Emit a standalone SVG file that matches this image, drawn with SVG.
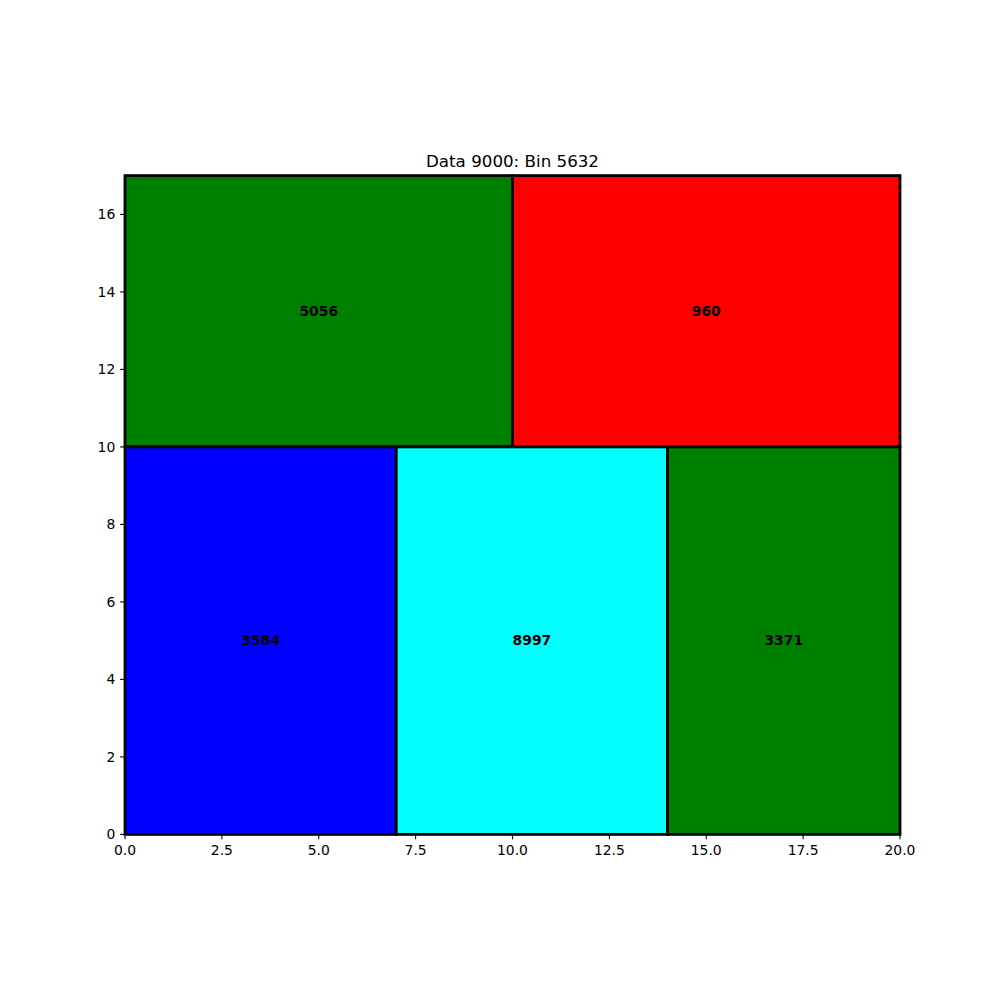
<svg xmlns="http://www.w3.org/2000/svg" width="1000" height="1000" viewBox="0 0 1000 1000">
<style>
text { font-family: "DejaVu Sans", sans-serif; fill: #000; }
.tick { stroke: #000; stroke-width: 1.1; }
.xl { font-size: 13.9px; text-anchor: middle; }
.yl { font-size: 13.9px; text-anchor: end; }
.lbl { font-size: 13.9px; font-weight: bold; text-anchor: middle; }
.box { stroke: #000; stroke-width: 2.8; }
</style>
<rect x="0" y="0" width="1000" height="1000" fill="#fff"/>
<text x="512.5" y="167" style="font-size:16.7px" text-anchor="middle">Data 9000: Bin 5632</text>
<g id="nodes">
<g id="n5056"><rect class="box" x="125" y="175.6" width="387.5" height="271.3" fill="#008000"/><text class="lbl" x="318.75" y="315.8">5056</text></g>
<g id="n960"><rect class="box" x="512.5" y="175.6" width="387.5" height="271.3" fill="#ff0000"/><text class="lbl" x="706.25" y="315.8">960</text></g>
<g id="n3584"><rect class="box" x="125" y="446.9" width="271.25" height="387.5" fill="#0000ff"/><text class="lbl" x="260.6" y="645.1">3584</text></g>
<g id="n8997"><rect class="box" x="396.25" y="446.9" width="271.25" height="387.5" fill="#00ffff"/><text class="lbl" x="531.9" y="645.1">8997</text></g>
<g id="n3371"><rect class="box" x="667.5" y="446.9" width="232.5" height="387.5" fill="#008000"/><text class="lbl" x="783.75" y="645.1">3371</text></g>
</g>
<g id="connectors"></g>
<g id="axes">
<g class="tick">
<line x1="125" y1="834.4" x2="125" y2="839.3"/>
<line x1="221.9" y1="834.4" x2="221.9" y2="839.3"/>
<line x1="318.75" y1="834.4" x2="318.75" y2="839.3"/>
<line x1="415.6" y1="834.4" x2="415.6" y2="839.3"/>
<line x1="512.5" y1="834.4" x2="512.5" y2="839.3"/>
<line x1="609.4" y1="834.4" x2="609.4" y2="839.3"/>
<line x1="706.25" y1="834.4" x2="706.25" y2="839.3"/>
<line x1="803.1" y1="834.4" x2="803.1" y2="839.3"/>
<line x1="900" y1="834.4" x2="900" y2="839.3"/>
<line x1="120.1" y1="834.4" x2="125" y2="834.4"/>
<line x1="120.1" y1="756.9" x2="125" y2="756.9"/>
<line x1="120.1" y1="679.4" x2="125" y2="679.4"/>
<line x1="120.1" y1="601.9" x2="125" y2="601.9"/>
<line x1="120.1" y1="524.4" x2="125" y2="524.4"/>
<line x1="120.1" y1="446.9" x2="125" y2="446.9"/>
<line x1="120.1" y1="369.4" x2="125" y2="369.4"/>
<line x1="120.1" y1="291.9" x2="125" y2="291.9"/>
<line x1="120.1" y1="214.4" x2="125" y2="214.4"/>
</g>
<text class="xl" x="125" y="855">0.0</text>
<text class="xl" x="221.9" y="855">2.5</text>
<text class="xl" x="318.75" y="855">5.0</text>
<text class="xl" x="415.6" y="855">7.5</text>
<text class="xl" x="512.5" y="855">10.0</text>
<text class="xl" x="609.4" y="855">12.5</text>
<text class="xl" x="706.25" y="855">15.0</text>
<text class="xl" x="803.1" y="855">17.5</text>
<text class="xl" x="900" y="855">20.0</text>
<text class="yl" x="115.3" y="839.4">0</text>
<text class="yl" x="115.3" y="761.9">2</text>
<text class="yl" x="115.3" y="684.4">4</text>
<text class="yl" x="115.3" y="606.9">6</text>
<text class="yl" x="115.3" y="529.4">8</text>
<text class="yl" x="115.3" y="451.9">10</text>
<text class="yl" x="115.3" y="374.4">12</text>
<text class="yl" x="115.3" y="296.9">14</text>
<text class="yl" x="115.3" y="219.4">16</text>
</g>
</svg>
